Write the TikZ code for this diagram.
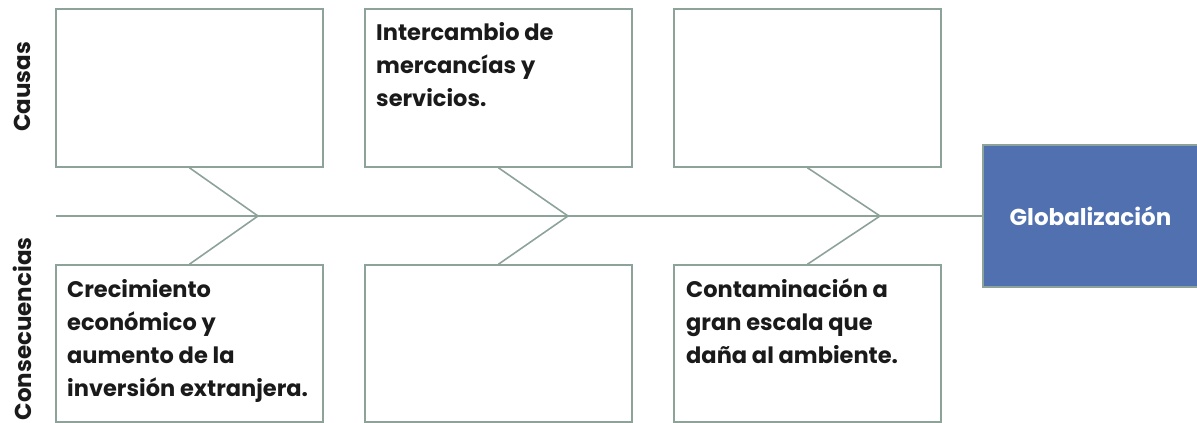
\documentclass[tikz,border=0pt]{standalone}
\usepackage{fontspec}
\setmainfont{Poppins}
\definecolor{lineC}{HTML}{8DA39A}
\definecolor{globC}{HTML}{5170B0}
\definecolor{txtC}{HTML}{1A1A1A}
\newcommand{\firstrule}{\rule{0pt}{20pt}}
\begin{document}
\begin{tikzpicture}[x=1pt,y=-1pt,
  box/.style={draw=lineC,line width=1.6pt,minimum width=267pt,minimum height=158pt,inner sep=0pt},
  lbl/.style={anchor=north west,align=left,inner sep=0pt,text=txtC,font=\fontsize{22.5}{33}\selectfont\bfseries},
  side/.style={rotate=90,inner sep=0pt,text=txtC,font=\fontsize{23}{26}\selectfont\bfseries},
  conn/.style={draw=lineC,line width=1.6pt}]
\useasboundingbox (0,0) rectangle (1197,423);
% top boxes
\node[box] (b1) at (189.5,88) {};
\node[box] (b2) at (498.5,88) {};
\node[box] (b3) at (807.5,88) {};
% bottom boxes
\node[box,minimum height=157pt] (c1) at (189.5,343.5) {};
\node[box,minimum height=157pt] (c2) at (498.5,343.5) {};
\node[box,minimum height=157pt] (c3) at (807.5,343.5) {};
% goal
\node[draw=lineC,line width=1.6pt,fill=globC,minimum width=215pt,minimum height=142pt,inner sep=0pt,text=white,font=\fontsize{23}{26}\selectfont\bfseries] (g) at (1090.5,216) {Globalización};
% spine
\coordinate (s0) at (56,216);
\coordinate (t1) at (258,216);
\coordinate (t2) at (568,216);
\coordinate (t3) at (880,216);
\draw[conn] (s0) -- (g.west);
\draw[conn] (b1.south) -- (t1) -- (c1.north);
\draw[conn] (b2.south) -- (t2) -- (c2.north);
\draw[conn] (b3.south) -- (t3) -- (c3.north);
% texts
\node[lbl] (l2) at (376,20) {\firstrule Intercambio de\\mercancías y\\servicios.};
\node[lbl] (l4) at (67,277) {\firstrule Crecimiento\\económico y\\aumento de la\\inversión extranjera.};
\node[lbl] (l6) at (686,277) {\firstrule Contaminación a\\gran escala que\\daña al ambiente.};
\node[side] (causas) at (22,87) {Causas};
\node[side] (cons) at (22,329) {Consecuencias};
\end{tikzpicture}
\end{document}
